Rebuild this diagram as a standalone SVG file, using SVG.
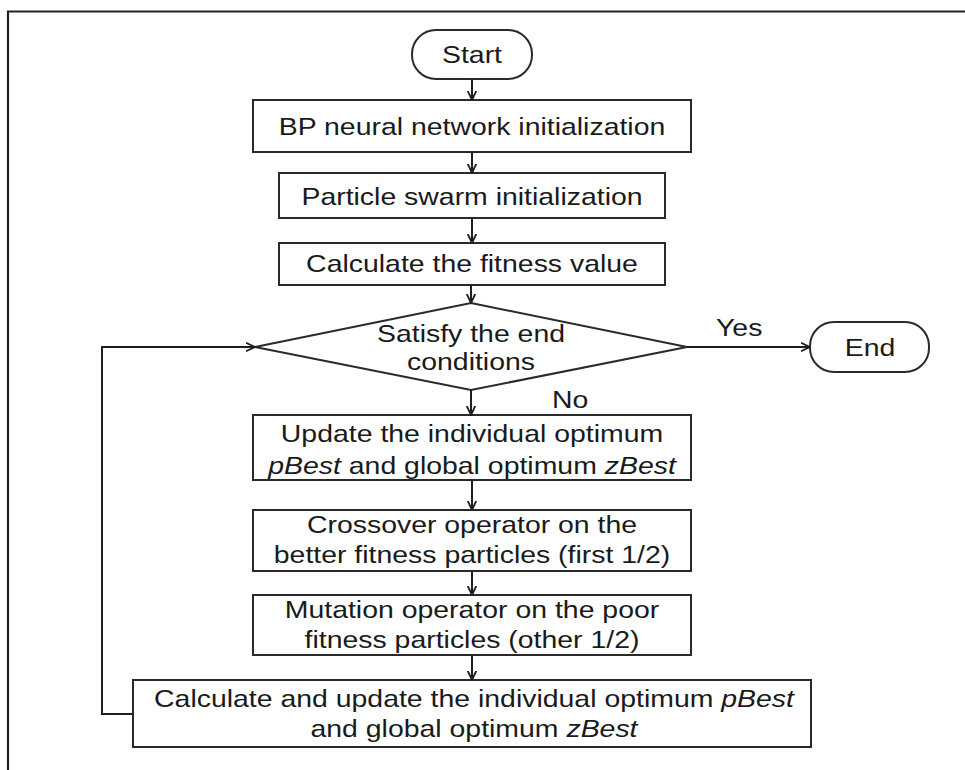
<svg xmlns="http://www.w3.org/2000/svg" width="965" height="770" viewBox="0 0 965 770">
  <defs>
    <marker id="arrow" viewBox="0 0 10 10" refX="9.5" refY="5" markerWidth="10" markerHeight="10" markerUnits="userSpaceOnUse" orient="auto">
      <path d="M0.5,0.8 L9.5,5 L0.5,9.2" fill="none" stroke="#1e1e1e" stroke-width="1.8"/>
    </marker>
    <style>
      .box { fill: #ffffff; stroke: #2a2a2a; stroke-width: 2; }
      .lbl { font-family: "Liberation Sans", Arial, sans-serif; font-size: 24px; fill: #1a1a1a; text-anchor: middle; }
      .lft { text-anchor: start; }
      .it { font-style: italic; }
      .conn { fill: none; stroke: #1e1e1e; stroke-width: 2; marker-end: url(#arrow); }
      .frame { fill: none; stroke: #222222; stroke-width: 2.2; }
    </style>
  </defs>

  <rect width="965" height="770" fill="#ffffff"/>

  <!-- outer frame (top and left edges) -->
  <path class="frame" d="M8,770 L8,11.5 L965,11.5"/>

  <g id="start">
    <rect class="box" x="412" y="30" width="120" height="49" rx="24" ry="24"/>
    <text class="lbl" transform="translate(472,63) scale(1.185,1)">Start</text>
  </g>

  <g id="bp-init">
    <rect class="box" x="253" y="100" width="438" height="52"/>
    <text class="lbl" transform="translate(472,135) scale(1.185,1)">BP neural network initialization</text>
  </g>

  <g id="swarm-init">
    <rect class="box" x="279" y="173" width="386" height="45"/>
    <text class="lbl" transform="translate(472,205) scale(1.185,1)">Particle swarm initialization</text>
  </g>

  <g id="fitness">
    <rect class="box" x="279" y="243" width="386" height="42"/>
    <text class="lbl" transform="translate(472,272) scale(1.185,1)">Calculate the fitness value</text>
  </g>

  <g id="end-check">
    <polygon class="box" points="471,303 687,347 471,390 255,347"/>
    <text class="lbl" transform="translate(471,342) scale(1.185,1)">Satisfy the end</text>
    <text class="lbl" transform="translate(471,370) scale(1.185,1)">conditions</text>
  </g>

  <g id="end">
    <rect class="box" x="810" y="322" width="119" height="50" rx="24" ry="24"/>
    <text class="lbl" transform="translate(870,356) scale(1.185,1)">End</text>
  </g>

  <g id="update-best">
    <rect class="box" x="253" y="415" width="438" height="65"/>
    <text class="lbl" transform="translate(472,442) scale(1.185,1)">Update the individual optimum</text>
    <text class="lbl" transform="translate(472,474) scale(1.185,1)"><tspan class="it">pBest</tspan> and global optimum <tspan class="it">zBest</tspan></text>
  </g>

  <g id="crossover">
    <rect class="box" x="253" y="510" width="438" height="61"/>
    <text class="lbl" transform="translate(472,533) scale(1.185,1)">Crossover operator on the</text>
    <text class="lbl" transform="translate(472,563) scale(1.185,1)">better fitness particles (first 1/2)</text>
  </g>

  <g id="mutation">
    <rect class="box" x="253" y="595" width="438" height="60"/>
    <text class="lbl" transform="translate(472,618) scale(1.185,1)">Mutation operator on the poor</text>
    <text class="lbl" transform="translate(472,648) scale(1.185,1)">fitness particles (other 1/2)</text>
  </g>

  <g id="recalc-best">
    <rect class="box" x="133" y="680" width="678" height="67"/>
    <text class="lbl" transform="translate(474,707) scale(1.185,1)">Calculate and update the individual optimum <tspan class="it">pBest</tspan></text>
    <text class="lbl" transform="translate(474,737) scale(1.185,1)">and global optimum <tspan class="it">zBest</tspan></text>
  </g>

  <g id="connectors">
    <line class="conn" x1="472" y1="79" x2="472" y2="100"/>
    <line class="conn" x1="472" y1="152" x2="472" y2="173"/>
    <line class="conn" x1="472" y1="218" x2="472" y2="243"/>
    <line class="conn" x1="471" y1="285" x2="471" y2="303"/>
    <line class="conn" x1="471" y1="390" x2="471" y2="415"/>
    <line class="conn" x1="472" y1="480" x2="472" y2="510"/>
    <line class="conn" x1="472" y1="571" x2="472" y2="595"/>
    <line class="conn" x1="472" y1="655" x2="472" y2="680"/>
    <line class="conn" x1="687" y1="347" x2="810" y2="347"/>
    <polyline class="conn" points="133,714 102,714 102,347 255,347"/>
    <text class="lbl lft" transform="translate(716,336) scale(1.185,1)">Yes</text>
    <text class="lbl lft" transform="translate(552,408) scale(1.185,1)">No</text>
  </g>
</svg>
